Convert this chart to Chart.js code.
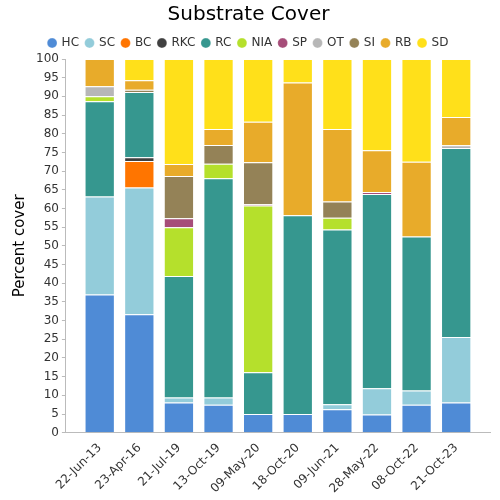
<!DOCTYPE html>
<html>
<head>
<meta charset="utf-8">
<script src="https://cdn.jsdelivr.net/npm/chart.js@4"></script>
<style>
  html, body { margin: 0; padding: 0; background: #fff; }
  #wrap { width: 500px; height: 500px; }
</style>
</head>
<body>
<div id="wrap"><canvas id="grafico"></canvas></div>
<script>
// Datas das amostras (eixo X)
const dates = ['22-Jun-13', '23-Apr-16', '21-Jul-19', '13-Oct-19', '09-May-20',
               '18-Oct-20', '09-Jun-21', '28-May-22', '08-Oct-22', '21-Oct-23'];

// Valores de cada categoria de substrato (%)
const HC  = [37.0, 31.7, 8.1, 7.5, 5.0, 5.0, 6.3, 4.9, 7.5, 8.1];
const SC  = [26.2, 33.9, 1.3, 1.9, 0, 0, 1.3, 7.0, 3.8, 17.5];
const BC  = [0, 7.1, 0, 0, 0, 0, 0, 0, 0, 0];
const RKC = [0, 1.0, 0, 0, 0, 0, 0, 0, 0, 0];
const RC  = [25.5, 17.5, 32.5, 58.7, 11.2, 53.2, 46.8, 52.0, 41.2, 50.6];
const NIA = [1.3, 0, 13.1, 3.9, 44.6, 0, 3.1, 0, 0, 0];
const SP  = [0, 0, 2.4, 0, 0.3, 0, 0, 0.5, 0, 0];
const OT  = [2.7, 0, 0, 0, 0, 0, 0, 0, 0, 0.7];
const SI  = [0, 0.6, 11.3, 5.0, 11.3, 0, 4.4, 0, 0, 0];
const RB  = [7.3, 2.5, 3.2, 4.3, 10.8, 35.5, 19.4, 11.2, 20.0, 7.6];
const SD  = [0, 5.7, 28.1, 18.7, 16.8, 6.3, 18.7, 24.4, 27.5, 15.5];

const series = [
  ['HC', HC, '#4f8bd6'],
  ['SC', SC, '#93ccda'],
  ['BC', BC, '#ff7500'],
  ['RKC', RKC, '#404040'],
  ['RC', RC, '#36978f'],
  ['NIA', NIA, '#b5e02c'],
  ['SP', SP, '#a64d79'],
  ['OT', OT, '#b7b7b7'],
  ['SI', SI, '#948257'],
  ['RB', RB, '#e8ab2a'],
  ['SD', SD, '#ffe01a']
];

Chart.defaults.font.family = 'DejaVu Sans';
Chart.defaults.color = '#333';

// deixa uma margem extra dentro do eixo X (as barras não encostam no eixo Y)
const margemX = {
  id: 'margemX',
  afterLayout(chart) {
    const x = chart.scales.x;
    x._startPixel = x.left + 14;
    x._endPixel = x.right - 14;
    x._length = x._endPixel - x._startPixel;
  }
};

new Chart(document.getElementById('grafico'), {
  type: 'bar',
  data: {
    labels: dates,
    datasets: series.map(s => ({
      label: s[0],
      data: s[1],
      backgroundColor: s[2],
      borderColor: 'rgba(255,255,255,0.25)',
      borderWidth: 1,
      categoryPercentage: 0.85,
      barPercentage: 0.9
    }))
  },
  options: {
    responsive: true,
    maintainAspectRatio: false,
    animation: false,
    layout: { padding: { left: 7, right: 10, top: 1, bottom: 4 } },
    plugins: {
      title: {
        display: true,
        text: 'Substrate Cover',
        color: '#000',
        font: { size: 20, weight: 'normal' },
        padding: { top: 2, bottom: 3 }
      },
      legend: {
        position: 'top',
        labels: {
          usePointStyle: true,
          pointStyle: 'circle',
          boxWidth: 7,
          boxHeight: 7,
          padding: 7,
          font: { size: 12 },
          color: '#333'
        }
      },
      tooltip: { enabled: false }
    },
    scales: {
      x: {
        stacked: true,
        grid: { display: false },
        border: { color: '#bbb' },
        ticks: { maxRotation: 45, minRotation: 45, padding: 0, font: { size: 12 }, color: '#333' }
      },
      y: {
        stacked: true,
        min: 0,
        max: 100,
        ticks: { stepSize: 5, font: { size: 12 }, color: '#333' },
        grid: { drawOnChartArea: false, tickLength: 4, color: '#bbb' },
        border: { color: '#bbb' },
        title: { display: true, text: 'Percent cover', font: { size: 15 }, color: '#000' }
      }
    }
  },
  plugins: [margemX]
});
</script>
</body>
</html>
